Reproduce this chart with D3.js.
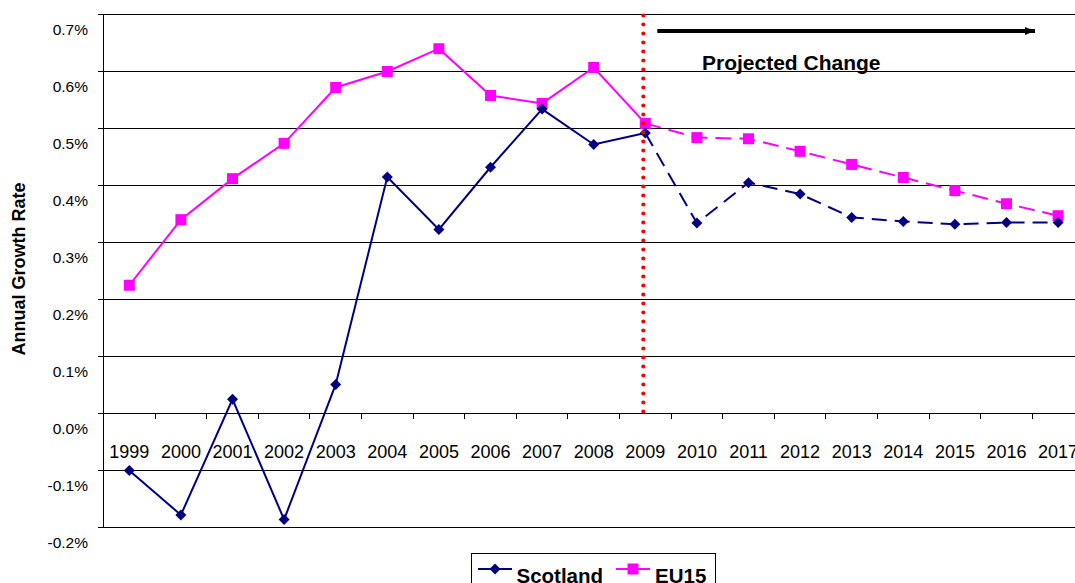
<!DOCTYPE html>
<html>
<head>
<meta charset="utf-8">
<script src="https://cdn.jsdelivr.net/npm/d3@7/dist/d3.min.js"></script>
<style>
  html, body { margin: 0; padding: 0; background: #fff; overflow: hidden; }
  svg { display: block; font-family: "Liberation Sans", Arial, sans-serif; }
</style>
</head>
<body>
<svg id="chart" width="1075" height="583"></svg>
<script>
// ---- data ----
const years = ["1999","2000","2001","2002","2003","2004","2005","2006","2007","2008","2009","2010","2011","2012","2013","2014","2015","2016","2017"];
const scotland = [-0.100, -0.178, 0.025, -0.186, 0.051, 0.415, 0.323, 0.432, 0.534, 0.472, 0.492, 0.334, 0.405, 0.385, 0.344, 0.337, 0.332, 0.335, 0.335];
const eu15 = [0.225, 0.340, 0.412, 0.474, 0.572, 0.600, 0.640, 0.558, 0.544, 0.607, 0.509, 0.484, 0.482, 0.460, 0.437, 0.414, 0.391, 0.368, 0.347];
const yTicks = [0.7, 0.6, 0.5, 0.4, 0.3, 0.2, 0.1, 0.0, -0.1, -0.2];
const yTickLabels = ["0.7%","0.6%","0.5%","0.4%","0.3%","0.2%","0.1%","0.0%","-0.1%","-0.2%"];
const projectionStart = "2009";
const seriesNames = ["Scotland", "EU15"];

// ---- layout ----
const svg = d3.select("#chart");
const left = 103.5, bandW = 51.6;
const x = d3.scaleBand().domain(years).range([left, left + bandW * years.length]).paddingInner(0).paddingOuter(0);
const y = d3.scaleLinear().domain([-0.2, 0.7]).range([527.5, 14.5]);
const cx = d => x(d) + x.bandwidth() / 2;
const gridRight = 1075;

// gridlines
svg.append("g").selectAll("line").data(yTicks).join("line")
  .attr("x1", left - 5.5).attr("x2", gridRight)
  .attr("y1", d => y(d)).attr("y2", d => y(d))
  .attr("stroke", "#000").attr("stroke-width", 1).attr("shape-rendering", "crispEdges");

// y axis line
svg.append("line").attr("x1", left).attr("x2", left).attr("y1", y(0.7)).attr("y2", y(-0.2))
  .attr("stroke", "#000").attr("stroke-width", 1).attr("shape-rendering", "crispEdges");

// y tick labels
svg.append("g").selectAll("text").data(yTicks).join("text")
  .attr("x", 88).attr("y", d => y(d) + 20)
  .attr("text-anchor", "end").attr("font-size", "15.5px").attr("fill", "#000")
  .text((d, i) => yTickLabels[i]);

// x ticks (band boundaries on zero line)
svg.append("g").selectAll("line").data(years.slice(1)).join("line")
  .attr("x1", d => x(d)).attr("x2", d => x(d))
  .attr("y1", y(0)).attr("y2", y(0) + 5)
  .attr("stroke", "#000").attr("stroke-width", 1).attr("shape-rendering", "crispEdges");

// x labels
svg.append("g").selectAll("text").data(years).join("text")
  .attr("x", d => cx(d)).attr("y", y(0) + 44)
  .attr("text-anchor", "middle").attr("font-size", "18px").attr("fill", "#000")
  .text(d => d);

// y axis title
svg.append("text").attr("transform", "translate(25,269) rotate(-90)")
  .attr("text-anchor", "middle").attr("font-size", "18px").attr("font-weight", "bold")
  .text("Annual Growth Rate");

// series
const pIdx = years.indexOf(projectionStart);
const line = d3.line().x(d => cx(d.year)).y(d => y(d.v));
function drawSeries(vals, color, dash, markerFn) {
  const pts = years.map((yr, i) => ({year: yr, v: vals[i]}));
  svg.append("path").datum(pts.slice(0, pIdx + 1)).attr("d", line)
    .attr("fill", "none").attr("stroke", color).attr("stroke-width", 2);
  svg.append("path").datum(pts.slice(pIdx)).attr("d", line)
    .attr("fill", "none").attr("stroke", color).attr("stroke-width", 2).attr("stroke-dasharray", dash);
  markerFn(svg.append("g").selectAll("path").data(pts).join("path")
    .attr("transform", d => `translate(${cx(d.year)},${y(d.v)})`));
}
const diamond = "M0,-5.5L5.5,0L0,5.5L-5.5,0Z";
const square = "M-5.5,-5.5H5.5V5.5H-5.5Z";
drawSeries(eu15, "#FF00FF", "16,8", s => s.attr("d", square).attr("fill", "#FF00FF"));
drawSeries(scotland, "#000080", "15,8", s => s.attr("d", diamond).attr("fill", "#000080"));

// red dotted projection line
svg.append("line")
  .attr("x1", cx(projectionStart) - 2).attr("x2", cx(projectionStart) - 2)
  .attr("y1", y(0.7) + 1).attr("y2", y(0))
  .attr("stroke", "#FF0000").attr("stroke-width", 4.2)
  .attr("stroke-linecap", "round").attr("stroke-dasharray", "0,9");

// arrow
svg.append("defs").append("marker").attr("id", "arrowhead")
  .attr("viewBox", "0 0 10 8").attr("refX", 10).attr("refY", 4)
  .attr("markerWidth", 10).attr("markerHeight", 8).attr("markerUnits", "userSpaceOnUse")
  .attr("orient", "auto")
  .append("path").attr("d", "M0,0L10,4L0,8Z").attr("fill", "#000");
svg.append("line")
  .attr("x1", cx(projectionStart) + 12).attr("x2", 1035)
  .attr("y1", 31).attr("y2", 31)
  .attr("stroke", "#000").attr("stroke-width", 3.8)
  .attr("marker-end", "url(#arrowhead)");
svg.append("text").attr("x", 702).attr("y", 70)
  .attr("font-size", "21px").attr("font-weight", "bold").text("Projected Change");

// legend
const lg = svg.append("g");
lg.append("rect").attr("x", 471.5).attr("y", 553.5).attr("width", 244).attr("height", 60)
  .attr("fill", "#fff").attr("stroke", "#000").attr("stroke-width", 1);
const legendItems = [
  {name: seriesNames[0], color: "#000080", shape: diamond, lx: 478, tx: 516.5},
  {name: seriesNames[1], color: "#FF00FF", shape: square, lx: 616, tx: 655}
];
legendItems.forEach(it => {
  lg.append("line").attr("x1", it.lx).attr("x2", it.lx + 34).attr("y1", 569).attr("y2", 569)
    .attr("stroke", it.color).attr("stroke-width", 2);
  lg.append("path").attr("d", it.shape).attr("transform", `translate(${it.lx + 17},569)`).attr("fill", it.color);
  lg.append("text").attr("x", it.tx).attr("y", 583).attr("font-size", "20.5px").attr("font-weight", "bold")
    .text(it.name);
});
</script>
</body>
</html>
